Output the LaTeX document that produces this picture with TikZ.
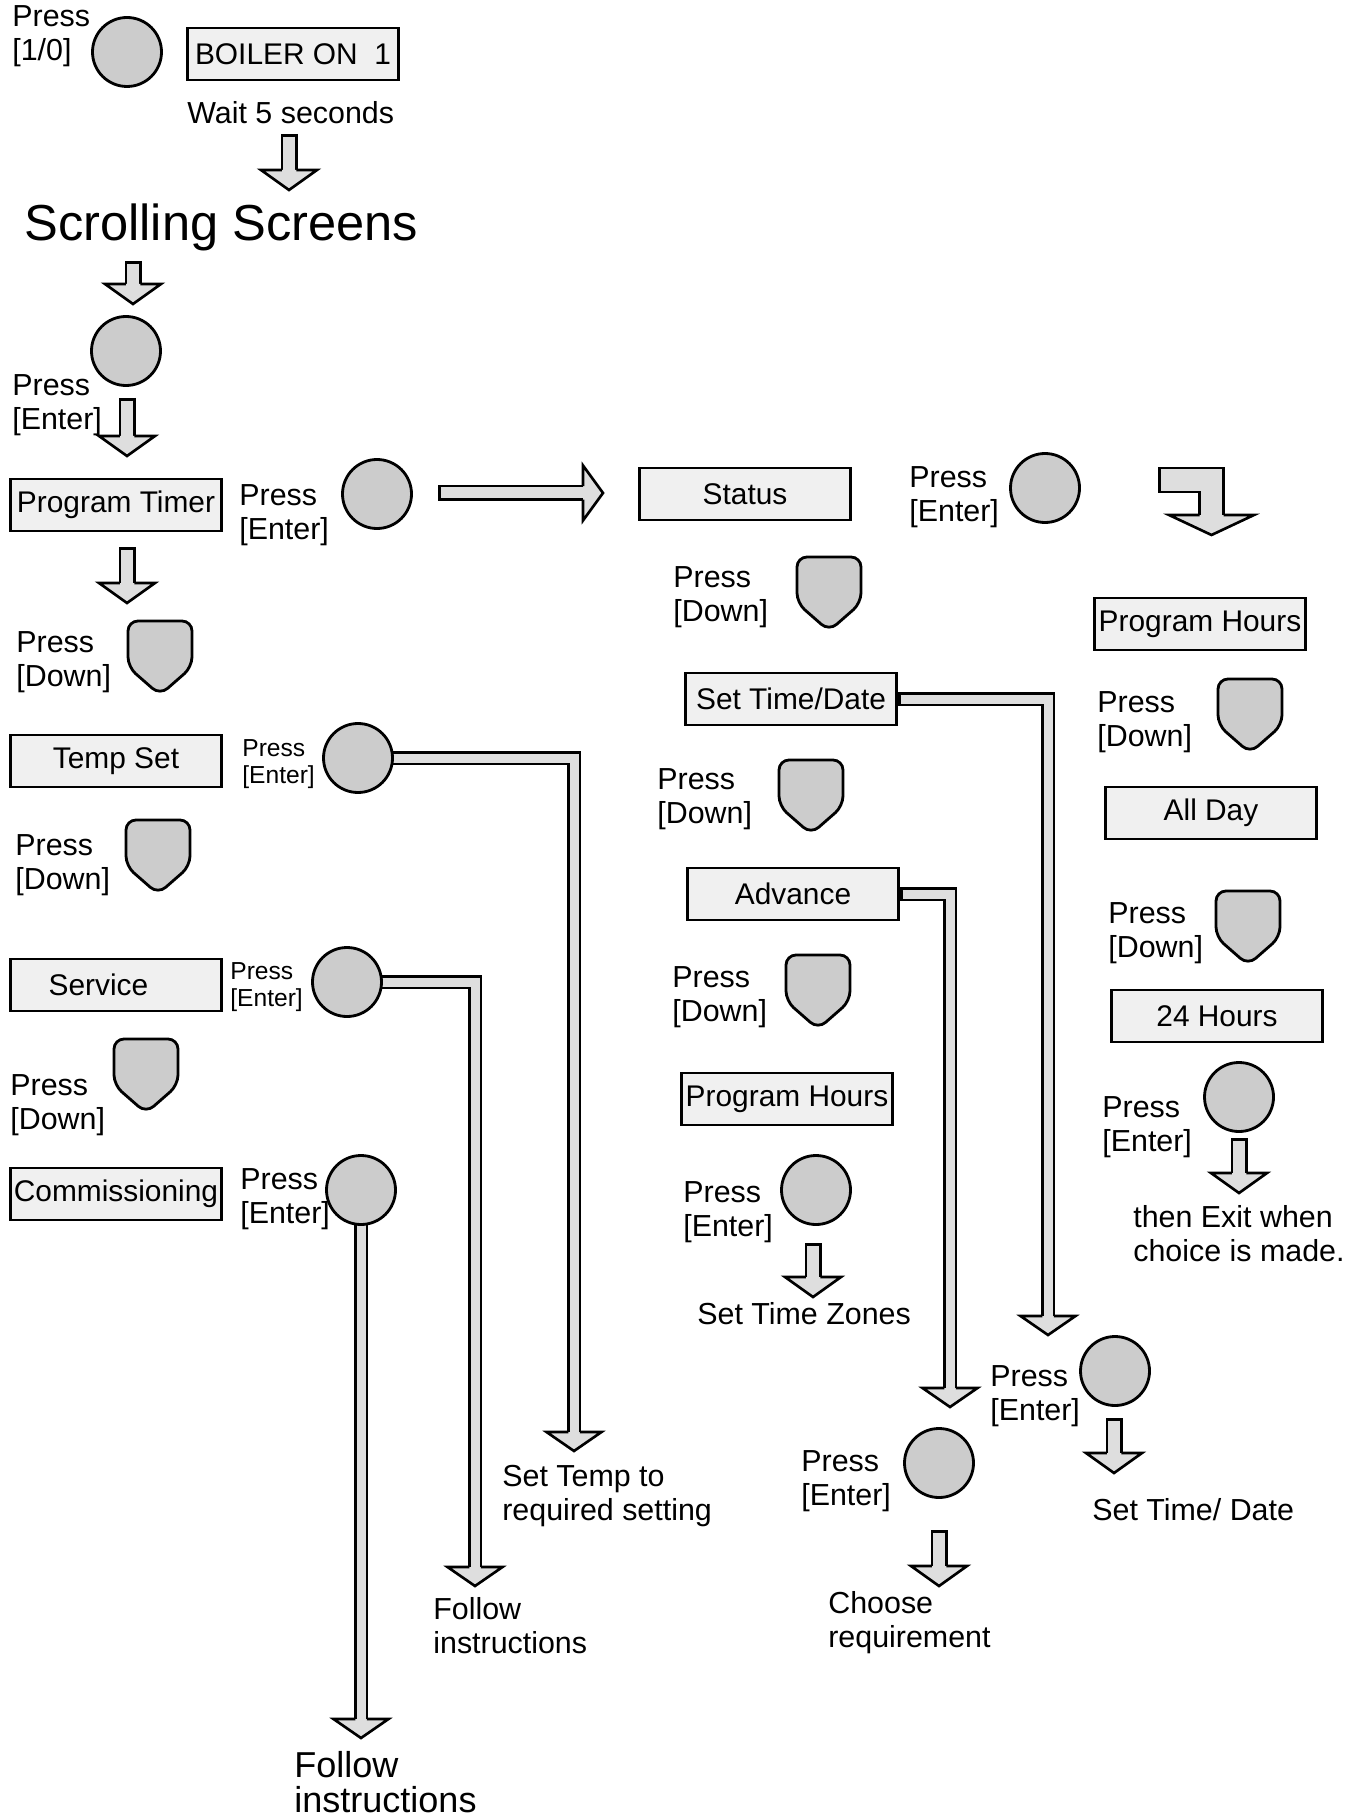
\documentclass[tikz,border=0pt]{standalone}
\usepackage{fontspec}
\setmainfont{Liberation Sans}
\usetikzlibrary{positioning, calc, decorations.markings, backgrounds}
\definecolor{keygray}{gray}{0.80}
\definecolor{screenfill}{gray}{0.94}
\definecolor{arrowfill}{gray}{0.87}
\newcommand{\headshape}[3]{%
\fill[arrowfill] (0mm,-#1) -- (#2,0mm) -- (0mm,#1) -- cycle;
\draw[line width=1.5pt, line join=miter] (0mm,{-(#3/2-0.25mm)}) -- (0mm,-#1) -- (#2,0mm) -- (0mm,#1) -- (0mm,{#3/2-0.25mm});
}
\tikzset{
%hollow arrow: outer width, inner width, half head width, head length
hollow/.style n args={4}{
draw=black, line width=#1, line join=miter,
postaction={draw=arrowfill, line width=#2, line join=miter, shorten <=0.55mm},
postaction={decorate, decoration={markings, mark=at position 1 with {\headshape{#3}{#4}{#1}}}}
},
pipe/.style={hollow={2.8mm}{1.8mm}{5.5mm}{3.8mm}},
blockarrow/.style={hollow={3.4mm}{2.4mm}{5.6mm}{4mm}},
downkey/.pic={
\filldraw[fill=keygray, line width=1.6pt, rounded corners=2mm] (-32,-37) -- (32,-37) -- (32,9) -- (0,37) -- (-32,9) -- cycle;
\coordinate (-c) at (0,0);
}
}

\begin{document}
\begin{tikzpicture}[x=0.2mm, y=-0.2mm,
	btn/.style = {circle, draw, line width=1.6pt, fill=keygray, minimum size=13.8mm, inner sep=0pt},
	screen/.style = {rectangle, draw, line width=1.6pt, fill=screenfill, minimum width=42.2mm, minimum height=10.4mm, inner sep=0pt, font=\fontsize{17}{19}\selectfont},
	note/.style = {anchor=north west, inner sep=0pt, align=left, font=\fontsize{17.3}{19.5}\selectfont},
	smallnote/.style = {note, font=\fontsize{14}{15.5}\selectfont},
	]
	\useasboundingbox (0,0) rectangle (1369,1820);

	% start
	\node[note] (pressonoff) at (12,5) {Press\\{[1/0]}};
	\node[btn] (btnonoff) at (127,52) {};
	\node[screen] (boiler) at (293,54) {BOILER ON\ \ 1};
	\node[note] (wait) at (187,101) {Wait 5 seconds};
	\node[note, font=\fontsize{28.8}{30}\selectfont] (scrolling) at (24,203) {Scrolling Screens};
	\node[btn] (btnscroll) at (126,351) {};
	\node[note] (pressscroll) at (12,374) {Press\\{[Enter]}};

	% left column
	\node[screen] (ptimer) at (116,505) {Program Timer};
	\node[note] (pressptimer) at (239,484) {Press\\{[Enter]}};
	\node[btn] (btnptimer) at (377,494) {};
	\node[note] (pressdown1) at (16,631) {Press\\{[Down]}};
	\pic (key1) at (160,658) {downkey};
	\node[screen] (tempset) at (116,761) {Temp Set};
	\node[smallnote] (presstemp) at (242,739) {Press\\{[Enter]}};
	\node[btn] (btntemp) at (358,758) {};
	\node[note] (pressdown2) at (15,834) {Press\\{[Down]}};
	\pic (key2) at (158,857) {downkey};
	\node[screen] (service) at (116,985) {Service\rule{7mm}{0pt}};
	\node[smallnote] (pressservice) at (230,962) {Press\\{[Enter]}};
	\node[btn] (btnservice) at (347,982) {};
	\node[note] (pressdown3) at (10,1074) {Press\\{[Down]}};
	\pic (key3) at (146,1076) {downkey};
	\node[screen] (comm) at (116,1194) {Commissioning};
	\node[note] (presscomm) at (240,1168) {Press\\{[Enter]}};
	\node[btn] (btncomm) at (361,1190) {};
	\node[note] (settemp) at (502,1465) {Set Temp to\\required setting};
	\node[note] (follow1) at (433,1597) {Follow\\instructions};
	\node[note, font=\fontsize{20.5}{20}\selectfont] (follow2) at (294,1751) {Follow\\instructions};

	% status column
	\node[screen] (status) at (745,494) {Status};
	\node[note] (pressstatus) at (909,466) {Press\\{[Enter]}};
	\node[btn] (btnstatus) at (1045,488) {};
	\node[note] (pressdown4) at (673,566) {Press\\{[Down]}};
	\pic (key4) at (829,594) {downkey};
	\node[screen] (settime) at (791,699) {Set Time/Date};
	\node[note] (pressdown5) at (657,768) {Press\\{[Down]}};
	\pic (key5) at (811,797) {downkey};
	\node[screen] (advance) at (793,894) {Advance};
	\node[note] (pressdown6) at (672,966) {Press\\{[Down]}};
	\pic (key6) at (818,992) {downkey};
	\node[screen] (proghours) at (787,1099) {Program Hours};
	\node[note] (pressprog) at (683,1181) {Press\\{[Enter]}};
	\node[btn] (btnprog) at (816,1190) {};
	\node[note] (zones) at (697,1302) {Set Time Zones};
	\node[note] (pressadv) at (801,1450) {Press\\{[Enter]}};
	\node[btn] (btnadv) at (939,1463) {};
	\node[note] (choose) at (828,1591) {Choose\\requirement};

	% right column
	\node[screen] (proghours2) at (1200,624) {Program Hours};
	\node[note] (pressdown7) at (1097,691) {Press\\{[Down]}};
	\pic (key7) at (1250,716) {downkey};
	\node[screen] (allday) at (1211,813) {All Day};
	\node[note] (pressdown8) at (1108,902) {Press\\{[Down]}};
	\pic (key8) at (1248,928) {downkey};
	\node[screen] (hours24) at (1217,1016) {24 Hours};
	\node[note] (press24) at (1102,1096) {Press\\{[Enter]}};
	\node[btn] (btn24) at (1239,1097) {};
	\node[note] (exit) at (1133,1205) {then Exit when\\choice is made.};
	\node[note] (presstime) at (990,1365) {Press\\{[Enter]}};
	\node[btn] (btntime) at (1115,1371) {};
	\node[note] (timedate) at (1092,1498) {Set Time/ Date};

	% arrow ends
	\coordinate (tempend) at (574,1432);
	\coordinate (serviceend) at (475,1567);
	\coordinate (commend) at (361,1719);
	\coordinate (settimeend) at (1048,1316);
	\coordinate (advanceend) at (950,1388);

	\begin{scope}[on background layer]
		\draw[pipe] (btntemp.center) -| (tempend);
		\draw[pipe] (btnservice.center) -| (serviceend);
		\draw[pipe] (btncomm.center) -- (commend);
		\draw[pipe] (settime.east) -| (settimeend);
		\draw[pipe] (advance.east) -| (advanceend);
	\end{scope}

	\draw[blockarrow] (289,134) coordinate (a1) -- (289,170) coordinate (a1end);
	\draw[blockarrow] (133,261) coordinate (a2) -- (133,284) coordinate (a2end);
	\draw[blockarrow] (127,398) coordinate (a3) -- (127,436) coordinate (a3end);
	\draw[blockarrow] (127,547) coordinate (a4) -- (127,583) coordinate (a4end);
	\draw[blockarrow] (813,1243) coordinate (a5) -- (813,1277) coordinate (a5end);
	\draw[blockarrow] (1239,1138) coordinate (a6) -- (1239,1173) coordinate (a6end);
	\draw[blockarrow] (1114,1418) coordinate (a7) -- (1114,1453) coordinate (a7end);
	\draw[blockarrow] (939,1530) coordinate (a8) -- (939,1566) coordinate (a8end);
	\draw[hollow={3.2mm}{2.2mm}{5.5mm}{4mm}] (438,493) coordinate (right) -- (583,493) coordinate (rightend);
	\draw[hollow={5.3mm}{4.3mm}{8.5mm}{4mm}] (1158,480) coordinate (bent) -- (1211.5,480) -- (1211.5,515) coordinate (bentend);
\end{tikzpicture}
\end{document}
